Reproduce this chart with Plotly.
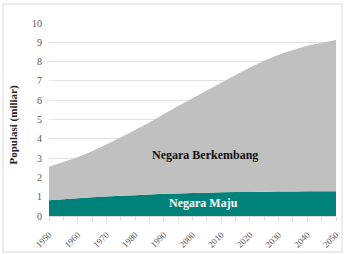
import plotly.graph_objects as go

years = [1950, 1955, 1960, 1965, 1970, 1975, 1980, 1985, 1990, 1995, 2000,
         2005, 2010, 2015, 2020, 2025, 2030, 2035, 2040, 2045, 2050]
total = [2.55, 2.8, 3.05, 3.35, 3.7, 4.07, 4.45, 4.85, 5.28, 5.7, 6.1,
         6.5, 6.9, 7.3, 7.7, 8.05, 8.35, 8.6, 8.82, 8.98, 9.12]
maju = [0.82, 0.87, 0.92, 0.97, 1.01, 1.05, 1.08, 1.12, 1.15, 1.17, 1.19,
        1.21, 1.23, 1.24, 1.25, 1.26, 1.27, 1.27, 1.28, 1.28, 1.28]
berkembang = [round(t - m, 3) for t, m in zip(total, maju)]
label_years = [str(y) if y % 10 == 0 else "" for y in years]
y_ticks = list(range(0, 11))

serif = "Liberation Serif, DejaVu Serif, serif"

fig = go.Figure()
fig.add_trace(go.Scatter(x=years, y=maju, stackgroup="a", mode="none",
                         fillcolor="#00827A", name="Negara Maju"))
fig.add_trace(go.Scatter(x=years, y=berkembang, stackgroup="a", mode="none",
                         fillcolor="#C0C0C0", name="Negara Berkembang"))

fig.add_annotation(x=2004.5, y=3.15, text="<b>Negara Berkembang</b>", showarrow=False,
                   font=dict(family=serif, size=12, color="#111111"))
fig.add_annotation(x=2004, y=0.68, text="<b>Negara Maju</b>", showarrow=False,
                   font=dict(family=serif, size=12, color="white"))
fig.add_annotation(xref="paper", yref="paper", x=(4 - 49) / 287, y=(216 - 125) / 193,
                   text="<b>Populasi (miliar)</b>", textangle=-90, showarrow=False,
                   font=dict(family=serif, size=11, color="#222222"))

fig.add_shape(type="rect", xref="paper", yref="paper",
              x0=(3 - 49) / 287, x1=(342 - 49) / 287,
              y0=(216 - 252) / 193, y1=(216 - 4) / 193,
              line=dict(color="#D9D9D9", width=1), fillcolor="rgba(0,0,0,0)")

fig.update_layout(
    width=345, height=254,
    margin=dict(l=49, r=9, t=23, b=38, autoexpand=False),
    paper_bgcolor="white", plot_bgcolor="white",
    showlegend=False,
    font=dict(family=serif, size=9, color="#595959"),
)
fig.update_xaxes(range=[1950, 2050], tickvals=years, ticktext=label_years,
                 tickangle=-45, ticks="outside", ticklen=4, tickcolor="#D9D9D9",
                 ticklabelstandoff=5, automargin=False,
                 showgrid=False, showline=True, linecolor="#D9D9D9", zeroline=False,
                 tickfont=dict(family=serif, size=9, color="#595959"))
fig.update_yaxes(range=[0, 10], tickvals=y_ticks, showgrid=True, gridcolor="#E3E3E3",
                 zeroline=False, showline=False, ticks="", ticklabelstandoff=6,
                 automargin=False,
                 tickfont=dict(family=serif, size=10, color="#595959"))

fig.write_html("out.html")
